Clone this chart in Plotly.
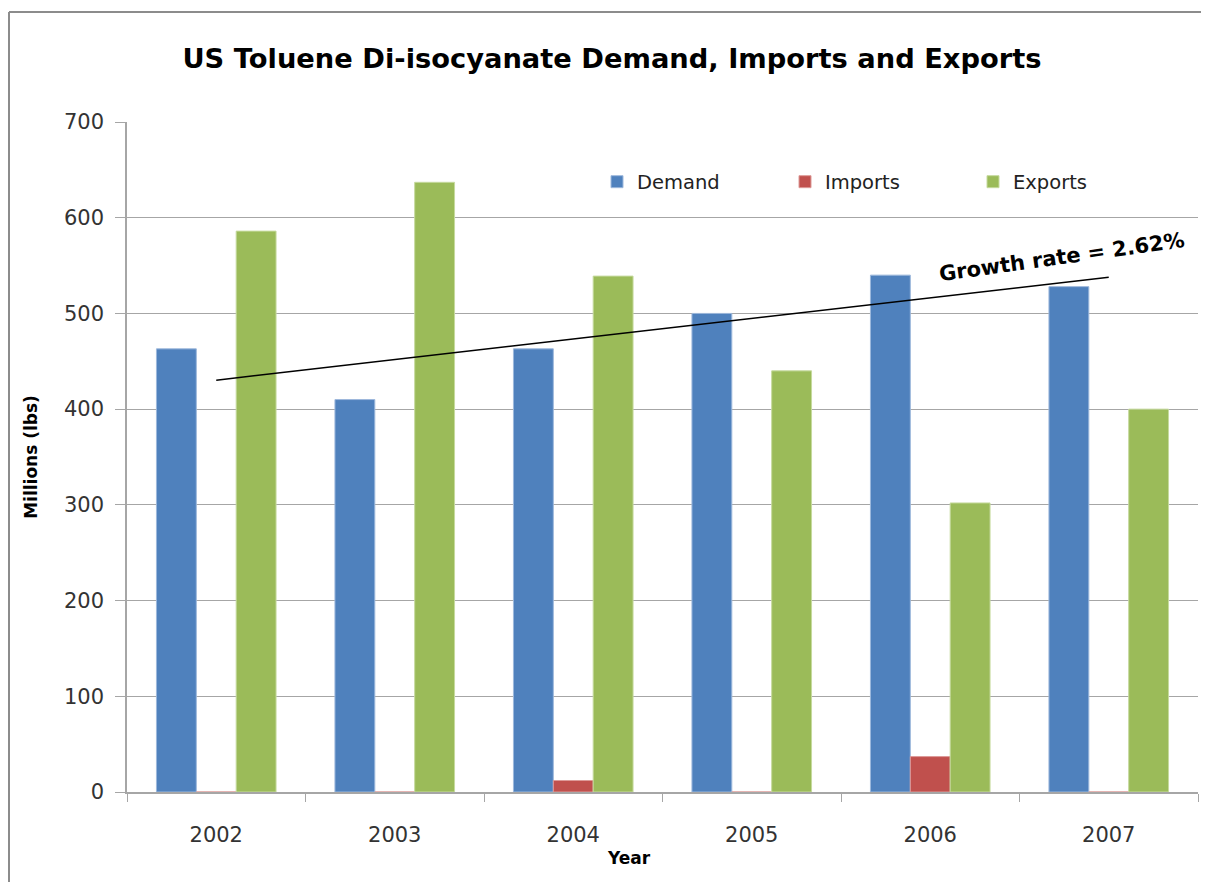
import numpy as np
import plotly.graph_objects as go

years = ["2002", "2003", "2004", "2005", "2006", "2007"]
demand = [463, 410, 463, 500, 540, 528]
imports = [0, 0, 12, 0, 37, 0]
exports = [586, 637, 539, 440, 302, 400]
y_ticks = [0, 100, 200, 300, 400, 500, 600, 700]

# linear trend line through demand (as Excel's trendline)
xi = np.arange(len(years))
slope, intercept = np.polyfit(xi, demand, 1)
trend_x = [years[0], years[-1]]
trend_y = [intercept, intercept + slope * (len(years) - 1)]

FONT = "DejaVu Sans"

# page has an 8px body margin; figure is sized / offset to compensate
W, H = 1201, 874
L, R, T, B = 119, 11, 114, 90
PW, PH = W - L - R, H - T - B

fig = go.Figure()
fig.add_trace(go.Bar(name="Demand", x=years, y=demand, marker=dict(color="#4F81BD", line=dict(color="#9DB8DC", width=1))))
fig.add_trace(go.Bar(name="Imports", x=years, y=imports, marker=dict(color="#C0504D", line=dict(color="#DD9A98", width=1))))
fig.add_trace(go.Bar(name="Exports", x=years, y=exports, marker=dict(color="#9BBB59", line=dict(color="#C6DA9E", width=1))))
fig.add_trace(go.Scatter(x=trend_x, y=trend_y, mode="lines", line=dict(color="black", width=1.5), showlegend=False, hoverinfo="skip"))

fig.add_annotation(x=4.74, y=559, xref="x", yref="y", text="<b>Growth rate = 2.62%</b>", showarrow=False,
                   textangle=-8, font=dict(family=FONT, size=21, color="black"))
fig.add_annotation(x=(621 - L) / PW, y=-(858 - 8 - (T + PH)) / PH, xref="paper", yref="paper", text="<b>Year</b>",
                   showarrow=False, xanchor="center", yanchor="middle", font=dict(family=FONT, size=17, color="black"))

grey = "#A6A6A6"
fig.update_layout(
    width=W, height=H,
    margin=dict(l=L, r=R, t=T, b=B),
    paper_bgcolor="white", plot_bgcolor="white",
    barmode="group", bargap=0.33, bargroupgap=0,
    title=dict(text="<b>US Toluene Di-isocyanate Demand, Imports and Exports</b>", x=604 / W, xanchor="center",
               y=1 - 50 / H, yanchor="middle", font=dict(family=FONT, size=27.3, color="black")),
    legend=dict(orientation="h", x=(589 - L) / PW, y=1 - (174 - T) / PH, xanchor="left", yanchor="middle",
                bgcolor="rgba(0,0,0,0)", font=dict(family=FONT, size=19.5, color="#222"),
                entrywidth=143, entrywidthmode="pixels"),
    xaxis=dict(type="category", showline=True, linecolor=grey, linewidth=1.5, ticks="outside", tickson="boundaries",
               ticklen=8, tickcolor=grey, tickfont=dict(family=FONT, size=21, color="#333"), showgrid=False,
               ticklabelstandoff=23),
    yaxis=dict(range=[0, 700], tickvals=y_ticks, showline=True, linecolor=grey, linewidth=1.5, ticks="outside",
               ticklen=10, tickcolor=grey, showgrid=True, gridcolor=grey, gridwidth=1,
               tickfont=dict(family=FONT, size=21, color="#333"), zeroline=False, ticklabelstandoff=7,
               title=dict(text="<b>Millions (lbs)</b>", font=dict(family=FONT, size=17, color="black"), standoff=22)),
    shapes=[
        dict(type="line", xref="paper", yref="paper", x0=-(L - 1) / PW, x1=-(L - 1) / PW, y0=-0.2, y1=1 + (T - 4) / PH,
             line=dict(color="#8C8C8C", width=2)),
        dict(type="line", xref="paper", yref="paper", x0=-(L - 1) / PW, x1=1.02, y0=1 + (T - 4) / PH, y1=1 + (T - 4) / PH,
             line=dict(color="#8C8C8C", width=2)),
    ],
)

fig.write_html("out.html")
